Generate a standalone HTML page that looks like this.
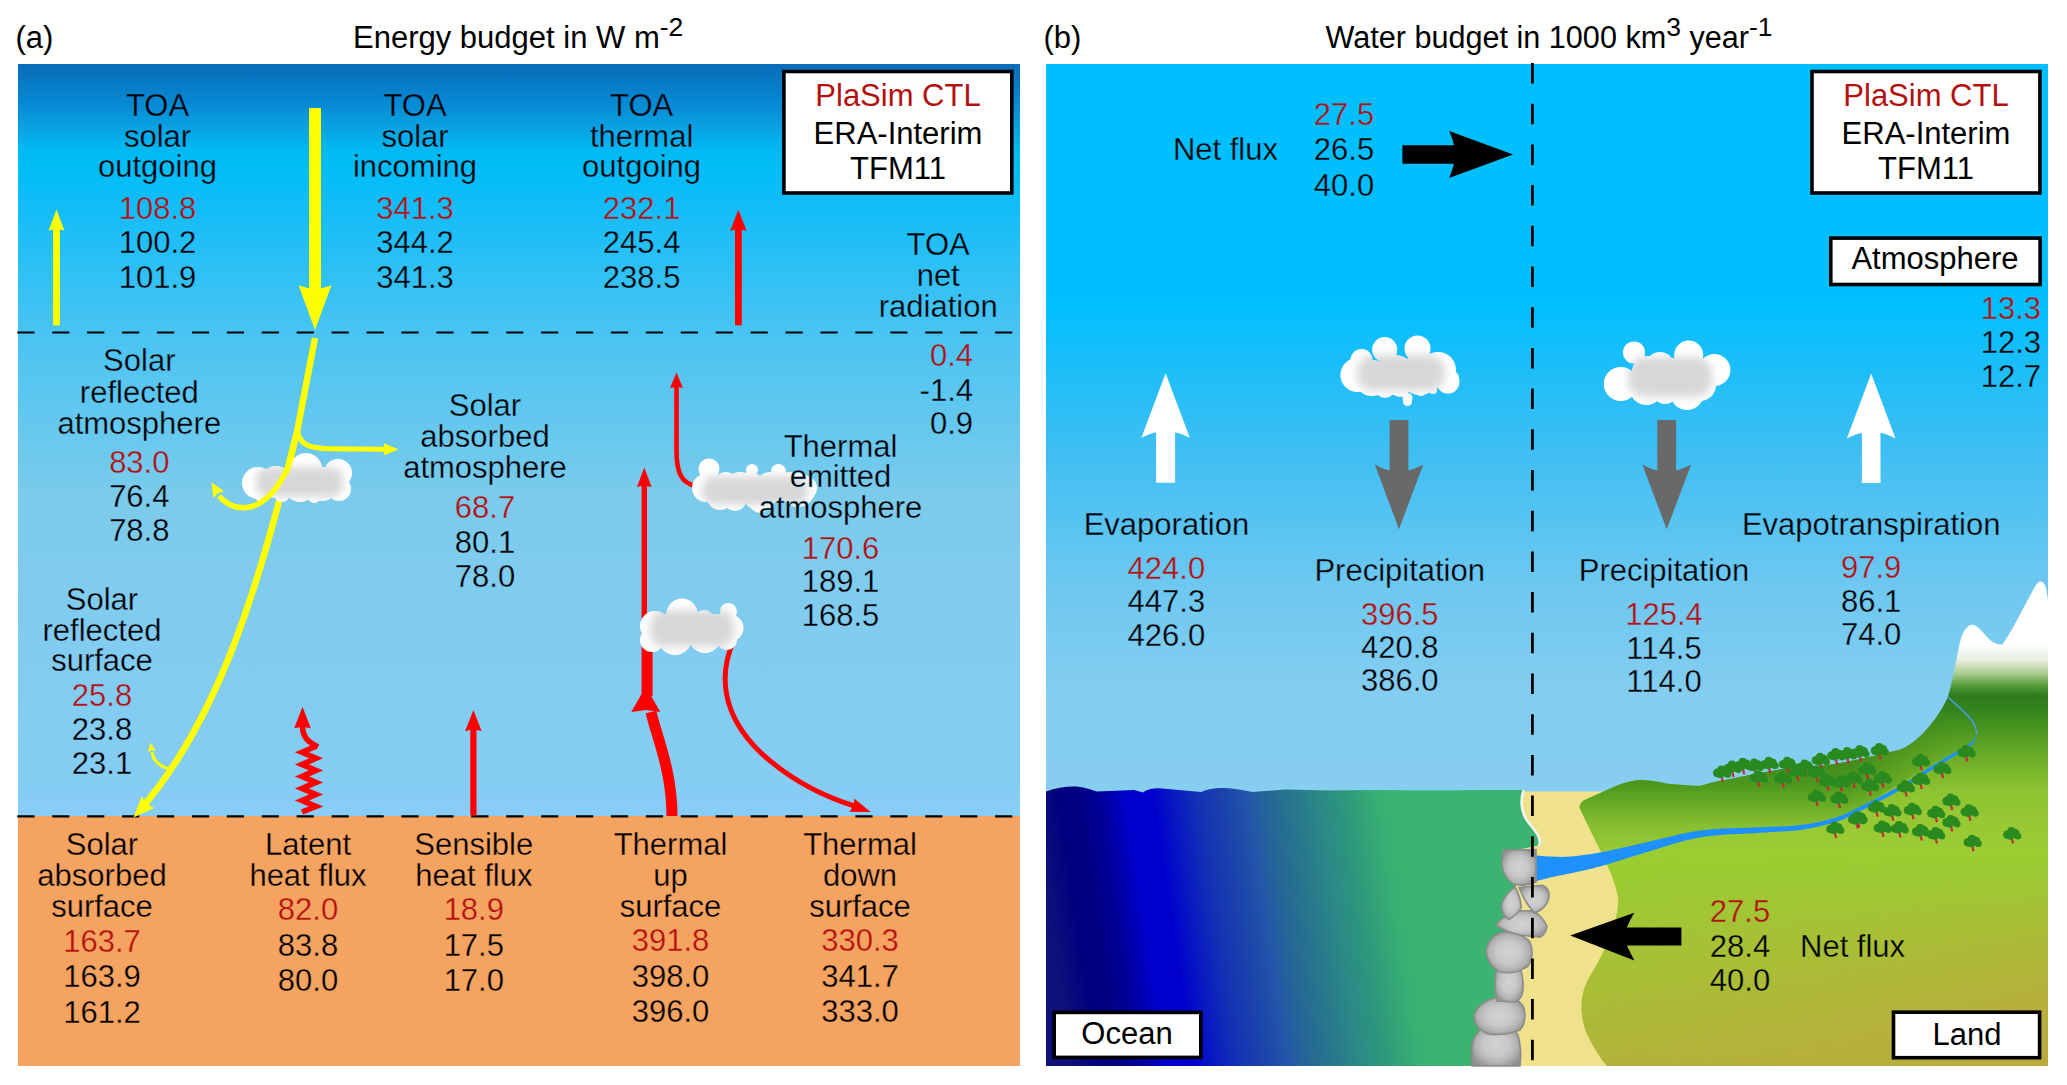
<!DOCTYPE html>
<html><head><meta charset="utf-8">
<style>
html,body{margin:0;padding:0;background:#fff;width:2067px;height:1085px;overflow:hidden;}
svg{display:block;}
text{font-family:"Liberation Sans",sans-serif;font-size:31px;fill:#000;stroke-width:0.3px;}
.r{fill:#b41010;}
.m{text-anchor:middle;}
.e{text-anchor:end;}
</style></head>
<body>
<svg width="2067" height="1085" viewBox="0 0 2067 1085">
<defs>
<linearGradient id="skyL" gradientUnits="userSpaceOnUse" x1="0" y1="64" x2="0" y2="816">
<stop offset="0" stop-color="#0a6cb9"/>
<stop offset="0.053" stop-color="#068ad4"/>
<stop offset="0.082" stop-color="#0aa0e1"/>
<stop offset="0.114" stop-color="#00b9f2"/>
<stop offset="0.141" stop-color="#00bdf8"/>
<stop offset="0.194" stop-color="#14bdf8"/>
<stop offset="0.356" stop-color="#48c4f2"/>
<stop offset="0.58" stop-color="#7ccbeb"/>
<stop offset="1" stop-color="#87cdf5"/>
</linearGradient>
<linearGradient id="skyR" gradientUnits="userSpaceOnUse" x1="0" y1="64" x2="0" y2="800">
<stop offset="0" stop-color="#00bfff"/>
<stop offset="0.32" stop-color="#00bfff"/>
<stop offset="0.52" stop-color="#3cbef2"/>
<stop offset="0.71" stop-color="#6ec8f0"/>
<stop offset="0.86" stop-color="#84cdf0"/>
<stop offset="1" stop-color="#87cef0"/>
</linearGradient>
<linearGradient id="ocean" gradientUnits="userSpaceOnUse" x1="1046" y1="900" x2="1530" y2="827.4">
<stop offset="0.000" stop-color="#10107a"/>
<stop offset="0.060" stop-color="#000080"/>
<stop offset="0.091" stop-color="#000080"/>
<stop offset="0.143" stop-color="#00009c"/>
<stop offset="0.194" stop-color="#0000cd"/>
<stop offset="0.246" stop-color="#0000cd"/>
<stop offset="0.298" stop-color="#0a1ec0"/>
<stop offset="0.339" stop-color="#1432b4"/>
<stop offset="0.413" stop-color="#1e4ba8"/>
<stop offset="0.436" stop-color="#2355aa"/>
<stop offset="0.483" stop-color="#256895"/>
<stop offset="0.533" stop-color="#28788c"/>
<stop offset="0.587" stop-color="#2b8a86"/>
<stop offset="0.628" stop-color="#2d967d"/>
<stop offset="0.669" stop-color="#33a477"/>
<stop offset="0.702" stop-color="#37af73"/>
<stop offset="0.731" stop-color="#3cb371"/>
<stop offset="1.000" stop-color="#3cb371"/>
</linearGradient>
<linearGradient id="landV" gradientUnits="userSpaceOnUse" x1="0" y1="580" x2="0" y2="1066">
<stop offset="0.000" stop-color="#ffffff"/>
<stop offset="0.134" stop-color="#ffffff"/>
<stop offset="0.165" stop-color="#e6eedf"/>
<stop offset="0.193" stop-color="#a8cc8c"/>
<stop offset="0.216" stop-color="#5a9e3c"/>
<stop offset="0.237" stop-color="#2e7c1c"/>
<stop offset="0.267" stop-color="#34841e"/>
<stop offset="0.309" stop-color="#4b9620"/>
<stop offset="0.370" stop-color="#6eaf28"/>
<stop offset="0.432" stop-color="#8cc330"/>
<stop offset="0.494" stop-color="#96c834"/>
<stop offset="0.556" stop-color="#9acd32"/>
<stop offset="1.000" stop-color="#9acd32"/>
</linearGradient>
<linearGradient id="hillG" gradientUnits="userSpaceOnUse" x1="0" y1="745" x2="0" y2="850">
<stop offset="0.000" stop-color="#3a8418"/>
<stop offset="0.381" stop-color="#4c981e"/>
<stop offset="0.571" stop-color="#68ad26"/>
<stop offset="0.762" stop-color="#86bf30"/>
<stop offset="1.000" stop-color="#98c835"/>
</linearGradient>
<linearGradient id="landO" gradientUnits="userSpaceOnUse" x1="0" y1="870" x2="0" y2="1066">
<stop offset="0" stop-color="#beae3e" stop-opacity="0"/>
<stop offset="1" stop-color="#bca83c" stop-opacity="0.72"/>
</linearGradient>
<linearGradient id="landO2" gradientUnits="userSpaceOnUse" x1="1600" y1="0" x2="2048" y2="0">
<stop offset="0" stop-color="#beae3e" stop-opacity="0"/>
<stop offset="1" stop-color="#bca83c" stop-opacity="0.8"/>
</linearGradient>
<linearGradient id="maskG" gradientUnits="userSpaceOnUse" x1="0" y1="860" x2="0" y2="1040">
<stop offset="0" stop-color="#000"/>
<stop offset="1" stop-color="#fff"/>
</linearGradient>
<mask id="lowmask" maskUnits="userSpaceOnUse" x="1500" y="500" width="600" height="600"><rect x="1500" y="500" width="600" height="600" fill="url(#maskG)"/></mask>
<linearGradient id="hmaskG" gradientUnits="userSpaceOnUse" x1="1850" y1="0" x2="1950" y2="0">
<stop offset="0" stop-color="#fff"/>
<stop offset="1" stop-color="#000"/>
</linearGradient>
<mask id="hillmask" maskUnits="userSpaceOnUse" x="1500" y="600" width="600" height="400"><rect x="1500" y="600" width="600" height="400" fill="url(#hmaskG)"/></mask>
<clipPath id="lowclip"><rect x="1500" y="870" width="600" height="220"/></clipPath>
<radialGradient id="rockG" cx="0.5" cy="0.5" r="0.6">
<stop offset="0" stop-color="#d2d2d2"/>
<stop offset="0.45" stop-color="#c8c8c8"/>
<stop offset="0.7" stop-color="#b4b4b4"/>
<stop offset="0.85" stop-color="#9e9e9e"/>
<stop offset="1" stop-color="#8e8e8e"/>
</radialGradient>
<filter id="cblur" x="-30%" y="-50%" width="160%" height="200%"><feGaussianBlur stdDeviation="4"/></filter>
<filter id="cloudf" x="-20%" y="-30%" width="140%" height="160%">
<feMorphology in="SourceAlpha" operator="erode" radius="5" result="er"/>
<feGaussianBlur in="er" stdDeviation="3.2" result="bl"/>
<feFlood flood-color="#d8d8d8" result="fl"/>
<feComposite in="fl" in2="bl" operator="in" result="gray"/>
<feMerge><feMergeNode in="SourceGraphic"/><feMergeNode in="gray"/></feMerge>
</filter>
</defs>

<rect x="18" y="64" width="1002" height="752" fill="url(#skyL)"/>
<rect x="18" y="816" width="1002" height="250" fill="#f4a460"/>
<rect x="783.9" y="71.5" width="227.9" height="121.5" fill="#fff" stroke="#000" stroke-width="3.6"/>
<line x1="17.3" y1="332.5" x2="1013" y2="332.5" stroke="#000" stroke-width="2.2" stroke-dasharray="17.2 17.72"/>
<line x1="17.3" y1="816.3" x2="1013" y2="816.3" stroke="#000" stroke-width="2.2" stroke-dasharray="17.2 17.72"/>
<polygon fill="#ffff00"  points="309,108 321,108 321,288.5 331.5,285.3 315,330 298.5,285.3 309,288.5"/>
<polygon fill="#ffff00"  points="53.1,325.6 53.1,229.3 48.5,230.7 56.5,209.4 64.5,230.7 59.9,229.3 59.9,325.6"/>
<polygon fill="#ff0000"  points="735,325.2 735,229.4 730.1,231 738.4,209.7 746.6,231 741.8,229.4 741.8,325.2"/>
<path d="M315,338 L297,432 C262,570 225,712 140,810" fill="none" stroke="#ffff00" stroke-width="6.5"/>
<polygon fill="#ffff00"  points="141.7,796.4 133.5,817.5 154.1,808.1 146.6,803.7"/>
<path d="M297.5,430 C299,444 308,448.5 330,448.8 L386,449.2" fill="none" stroke="#ffff00" stroke-width="5"/>
<polygon fill="#ffff00"  points="383.5,455.6 398.5,449.4 383.5,443.1 385,449.4"/>
<clipPath id="cc1"><circle cx="258" cy="483" r="16"/><circle cx="276" cy="482" r="16"/><circle cx="306" cy="469" r="16"/><circle cx="300" cy="486" r="16"/><circle cx="322" cy="484" r="17"/><circle cx="338" cy="473" r="14"/><circle cx="339" cy="489" r="12"/><circle cx="282" cy="494" r="8"/><circle cx="262" cy="494" r="8"/><circle cx="314" cy="497" r="6"/></clipPath><g fill="#fff"><circle cx="258" cy="483" r="16"/><circle cx="276" cy="482" r="16"/><circle cx="306" cy="469" r="16"/><circle cx="300" cy="486" r="16"/><circle cx="322" cy="484" r="17"/><circle cx="338" cy="473" r="14"/><circle cx="339" cy="489" r="12"/><circle cx="282" cy="494" r="8"/><circle cx="262" cy="494" r="8"/><circle cx="314" cy="497" r="6"/></g><g clip-path="url(#cc1)"><rect x="256" y="467" width="87" height="30" rx="12" fill="#d8d8d8" filter="url(#cblur)"/></g>
<path d="M295,440 C292,462 283,482 268,497 C255,509 235,514 219,496" fill="none" stroke="#ffff00" stroke-width="5.5"/>
<polygon fill="#ffff00"  points="224.1,491.3 211.5,482.5 213.3,497.7 217.9,493.2"/>
<path d="M172,769 C160,768 153,760 152,752" fill="none" stroke="#ffff00" stroke-width="3"/>
<polygon fill="#ffff00"  points="155.8,750.8 150.5,742.5 147.9,752 151.7,750.4"/>
<polygon fill="#ff0000"  points="470.3,815.5 470.3,729.8 465.1,731.3 473.4,710 481.7,731.3 476.5,729.8 476.5,815.5"/>
<polyline points="302,812 316,806.5 302,800.5 316,794.5 302,788.5 316,782.4 302,776.4 316,770.4 302,764.4 316,758.3 302,752.3 316,746.2" fill="none" stroke="#ff0000" stroke-width="5.6" stroke-miterlimit="10"/>
<path d="M318,747 C308,742 302.5,737 302.5,726" fill="none" stroke="#ff0000" stroke-width="5.6"/>
<polygon fill="#ff0000"  points="310.8,728.3 302.5,706.8 294.2,728.3 302.5,726.8"/>
<path d="M672,816 C672,770 656,735 651,712" fill="none" stroke="#ff0000" stroke-width="11"/>
<polygon fill="#ff0000"  points="660.3,712 645.8,686.5 631.3,712 645.8,710"/>
<rect x="641.6" y="640" width="11" height="56" fill="#ff0000"/>
<rect x="641.6" y="484" width="5.4" height="160" fill="#ff0000"/>
<polygon fill="#ff0000"  points="651.6,487.1 644.3,467.6 636.9,487.1 644.3,485.6"/>
<path d="M734,640 C718,675 722,715 760,752 C790,780 825,797 856,806.5" fill="none" stroke="#ff0000" stroke-width="5"/>
<polygon fill="#ff0000"  points="849.4,811.8 870.6,812 854.2,798.6 853.7,805.9"/>
<clipPath id="cc2"><circle cx="655" cy="626" r="15"/><circle cx="652" cy="640" r="12"/><circle cx="682" cy="614" r="15.5"/><circle cx="675" cy="638" r="17"/><circle cx="704" cy="620" r="10"/><circle cx="705" cy="637" r="16"/><circle cx="728.5" cy="611.5" r="8.5"/><circle cx="730" cy="628" r="13.5"/><circle cx="727" cy="640" r="10"/><circle cx="694" cy="626" r="12"/><circle cx="716" cy="624" r="10"/><circle cx="668" cy="626" r="12"/></clipPath><g fill="#fff"><circle cx="655" cy="626" r="15"/><circle cx="652" cy="640" r="12"/><circle cx="682" cy="614" r="15.5"/><circle cx="675" cy="638" r="17"/><circle cx="704" cy="620" r="10"/><circle cx="705" cy="637" r="16"/><circle cx="728.5" cy="611.5" r="8.5"/><circle cx="730" cy="628" r="13.5"/><circle cx="727" cy="640" r="10"/><circle cx="694" cy="626" r="12"/><circle cx="716" cy="624" r="10"/><circle cx="668" cy="626" r="12"/></g><g clip-path="url(#cc2)"><rect x="650" y="610" width="84" height="37" rx="14" fill="#d8d8d8" filter="url(#cblur)"/></g>
<path d="M697,486 C680,484 676.5,470 676.5,450 L676.5,386" fill="none" stroke="#ff0000" stroke-width="4.6"/>
<polygon fill="#ff0000"  points="682.9,388 676.5,372.5 670.1,388 676.5,386.8"/>
<clipPath id="cc3"><circle cx="706" cy="488" r="14"/><circle cx="709" cy="469" r="10.5"/><circle cx="720" cy="497" r="13"/><circle cx="726" cy="484" r="12"/><circle cx="750" cy="486" r="14"/><circle cx="770" cy="486" r="14"/><circle cx="790" cy="486" r="14"/><circle cx="805" cy="488" r="12"/><circle cx="740" cy="488" r="16"/><circle cx="752" cy="470" r="6"/><circle cx="760" cy="494" r="17"/><circle cx="780" cy="488" r="15"/><circle cx="778.5" cy="471.5" r="7.5"/><circle cx="798" cy="490" r="17"/><circle cx="735" cy="500" r="11"/><circle cx="760" cy="503" r="10"/></clipPath><g fill="#fff"><circle cx="706" cy="488" r="14"/><circle cx="709" cy="469" r="10.5"/><circle cx="720" cy="497" r="13"/><circle cx="726" cy="484" r="12"/><circle cx="750" cy="486" r="14"/><circle cx="770" cy="486" r="14"/><circle cx="790" cy="486" r="14"/><circle cx="805" cy="488" r="12"/><circle cx="740" cy="488" r="16"/><circle cx="752" cy="470" r="6"/><circle cx="760" cy="494" r="17"/><circle cx="780" cy="488" r="15"/><circle cx="778.5" cy="471.5" r="7.5"/><circle cx="798" cy="490" r="17"/><circle cx="735" cy="500" r="11"/><circle cx="760" cy="503" r="10"/></g><g clip-path="url(#cc3)"><rect x="702" y="476" width="106" height="29" rx="12" fill="#d8d8d8" filter="url(#cblur)"/></g>
<rect x="1046" y="64" width="1002" height="1002" fill="url(#skyR)"/>
<rect x="1515" y="791.5" width="130" height="274.5" fill="#f0e28c"/>
<path d="M1579.6,808 C1579.6,803 1583,800 1588,798.5 C1608,790 1625,780 1641,780 C1655,780 1665,784 1673,784.2 C1685,785 1692,786 1700,785.7 C1706,785 1711,782 1717.5,781.3 C1740,777 1760,772 1790,768 C1810,766 1820,765.5 1826,765.2 C1850,762 1880,754 1900,749.7 C1920,742 1940,715 1947.5,697.7 C1952,685 1956,660 1960,642 C1963,630 1968,624.7 1972,624.7 C1978,624.7 1983,633 1990,640 C1995,644 1999,645 2002.3,644.5 C2012,632 2028,598 2036,585 C2040,579 2044,581 2046,588 L2048,600 L2048,1066 L1607,1066 C1600,1058 1594,1048 1588,1036 C1580,1020 1578,995 1590,976 C1600,960 1616,930 1618,905 C1620,895 1612,875 1603,856 Z" fill="url(#landV)"/>
<path d="M1579.6,808 C1579.6,803 1583,800 1588,798.5 C1608,790 1625,780 1641,780 C1655,780 1665,784 1673,784.2 C1685,785 1692,786 1700,785.7 C1706,785 1711,782 1717.5,781.3 C1740,777 1760,772 1790,768 C1810,766 1820,765.5 1826,765.2 C1850,762 1880,754 1900,749.7 C1920,742 1940,715 1947.5,697.7 C1955,705 1970,715 1976,734 C1975,740 1965,744 1950,752 C1920,770 1890,790 1860,808 C1835,822 1800,829 1760,831 C1720,834 1680,838 1640,845 C1615,849 1605,852 1603,856 Z" fill="url(#hillG)" mask="url(#hillmask)"/>
<path d="M1579.6,808 C1579.6,803 1583,800 1588,798.5 C1608,790 1625,780 1641,780 C1655,780 1665,784 1673,784.2 C1685,785 1692,786 1700,785.7 C1706,785 1711,782 1717.5,781.3 C1740,777 1760,772 1790,768 C1810,766 1820,765.5 1826,765.2 C1850,762 1880,754 1900,749.7 C1920,742 1940,715 1947.5,697.7 C1952,685 1956,660 1960,642 C1963,630 1968,624.7 1972,624.7 C1978,624.7 1983,633 1990,640 C1995,644 1999,645 2002.3,644.5 C2012,632 2028,598 2036,585 C2040,579 2044,581 2046,588 L2048,600 L2048,1066 L1607,1066 C1600,1058 1594,1048 1588,1036 C1580,1020 1578,995 1590,976 C1600,960 1616,930 1618,905 C1620,895 1612,875 1603,856 Z" fill="url(#landO)" clip-path="url(#lowclip)"/>
<path d="M1579.6,808 C1579.6,803 1583,800 1588,798.5 C1608,790 1625,780 1641,780 C1655,780 1665,784 1673,784.2 C1685,785 1692,786 1700,785.7 C1706,785 1711,782 1717.5,781.3 C1740,777 1760,772 1790,768 C1810,766 1820,765.5 1826,765.2 C1850,762 1880,754 1900,749.7 C1920,742 1940,715 1947.5,697.7 C1952,685 1956,660 1960,642 C1963,630 1968,624.7 1972,624.7 C1978,624.7 1983,633 1990,640 C1995,644 1999,645 2002.3,644.5 C2012,632 2028,598 2036,585 C2040,579 2044,581 2046,588 L2048,600 L2048,1066 L1607,1066 C1600,1058 1594,1048 1588,1036 C1580,1020 1578,995 1590,976 C1600,960 1616,930 1618,905 C1620,895 1612,875 1603,856 Z" fill="url(#landO2)" mask="url(#lowmask)"/>
<path d="M1530,855 L1531.5,855.1 L1533.6,855.3 L1536,855.5 L1538.8,855.8 L1541.6,856 L1544.5,856.2 L1547.4,856.4 L1550,856.5 L1552.4,856.6 L1554.8,856.7 L1557.1,856.8 L1559.4,856.8 L1561.8,856.9 L1564.3,856.8 L1567,856.7 L1570,856.5 L1573.2,856.2 L1576.6,855.9 L1580.1,855.5 L1583.8,855 L1587.6,854.5 L1591.6,853.9 L1595.7,853.3 L1600,852.5 L1604.4,851.7 L1608.8,850.8 L1613.4,849.8 L1618.1,848.7 L1623.1,847.6 L1628.4,846.4 L1634,845.1 L1640,843.8 L1646.5,842.3 L1653.6,840.6 L1661,838.7 L1668.8,836.9 L1676.6,835 L1684.5,833.3 L1692.4,831.8 L1700,830.6 L1707.6,829.7 L1715.5,829 L1723.4,828.6 L1731.2,828.2 L1739,827.9 L1746.4,827.7 L1753.5,827.5 L1760,827.2 L1766,826.9 L1771.5,826.7 L1776.7,826.6 L1781.6,826.4 L1786.2,826.2 L1790.8,826 L1795.4,825.6 L1800,825.1 L1804.7,824.5 L1809.3,823.7 L1813.9,822.9 L1818.4,822 L1822.8,821 L1827.1,819.9 L1831.1,818.8 L1835,817.7 L1838.5,816.6 L1841.6,815.4 L1844.4,814.3 L1847.2,813 L1850,811.7 L1852.9,810.2 L1856.2,808.6 L1860,806.7 L1864.4,804.5 L1869.2,802.1 L1874.3,799.5 L1879.7,796.7 L1885.1,793.9 L1890.4,791.1 L1895.4,788.4 L1900,785.8 L1904.3,783.3 L1908.3,780.9 L1912.2,778.4 L1915.9,776 L1919.6,773.7 L1923.1,771.4 L1926.6,769.1 L1930,767 L1933.4,764.9 L1936.8,762.9 L1940.1,761 L1943.3,759.1 L1946.4,757.3 L1949.4,755.5 L1952.3,753.8 L1955,752.2 L1957.6,750.7 L1960.1,749.2 L1962.5,747.8 L1964.8,746.5 L1966.9,745.2 L1968.8,743.9 L1970.5,742.7 L1972,741.5 L1973.2,740.3 L1974.1,739 L1974.8,737.7 L1975.3,736.5 L1975.7,735.3 L1976,734.3 L1976.2,733.5 L1976.5,732.8 L1976.5,735.2 L1976.2,735.9 L1976,736.8 L1975.7,737.9 L1975.3,739.1 L1974.8,740.5 L1974.1,741.8 L1973.2,743.2 L1972,744.5 L1970.5,745.8 L1968.8,747.1 L1966.9,748.4 L1964.8,749.8 L1962.5,751.2 L1960.1,752.7 L1957.6,754.2 L1955,755.8 L1952.3,757.5 L1949.4,759.2 L1946.4,761 L1943.3,762.9 L1940.1,764.8 L1936.8,766.8 L1933.4,768.9 L1930,771 L1926.6,773.2 L1923.1,775.5 L1919.6,777.8 L1915.9,780.2 L1912.2,782.7 L1908.3,785.2 L1904.3,787.7 L1900,790.2 L1895.4,792.8 L1890.4,795.6 L1885.1,798.4 L1879.7,801.3 L1874.3,804 L1869.2,806.7 L1864.4,809.1 L1860,811.3 L1856.2,813.2 L1852.9,814.8 L1850,816.3 L1847.2,817.6 L1844.4,818.9 L1841.6,820 L1838.5,821.2 L1835,822.3 L1831.1,823.4 L1827.1,824.5 L1822.8,825.6 L1818.4,826.6 L1813.9,827.5 L1809.3,828.4 L1804.7,829.2 L1800,829.9 L1795.4,830.5 L1790.8,830.9 L1786.2,831.3 L1781.6,831.5 L1776.7,831.8 L1771.5,832.1 L1766,832.4 L1760,832.8 L1753.5,833.2 L1746.4,833.5 L1739,833.9 L1731.2,834.2 L1723.4,834.7 L1715.5,835.4 L1707.6,836.2 L1700,837.4 L1692.4,838.9 L1684.5,840.8 L1676.6,843 L1668.8,845.3 L1661,847.7 L1653.6,850 L1646.5,852.2 L1640,854.2 L1634,856 L1628.4,857.7 L1623.1,859.4 L1618.1,861 L1613.4,862.5 L1608.8,863.9 L1604.4,865.2 L1600,866.5 L1595.7,867.6 L1591.6,868.7 L1587.6,869.6 L1583.8,870.5 L1580.1,871.3 L1576.6,872.1 L1573.2,872.8 L1570,873.5 L1567,874.1 L1564.3,874.7 L1561.8,875.2 L1559.4,875.6 L1557.1,876 L1554.8,876.5 L1552.4,876.9 L1550,877.5 L1547.4,878.2 L1544.5,878.9 L1541.6,879.7 L1538.8,880.5 L1536,881.3 L1533.6,882 L1531.5,882.6 L1530,883 Z" fill="#1e90ff"/>
<path d="M1976.8,734 C1976,722 1968,716 1962,710 C1956,704 1951,700 1948,697" fill="none" stroke="#4a9be0" stroke-width="1.6"/>
<path d="M1046,791.4 C1055,788 1065,786.4 1073,786.4 C1083,786.4 1090,789 1097,791.6 L1134,790 L1143,792.4 C1148,789 1152,788.2 1159.5,788.2 L1201,792 C1207,789 1214,787.9 1221,787.9 C1232,787.9 1242,790 1252.6,792 L1285,789.5 L1330,790.5 L1380,790 L1430,790.5 L1480,790 L1523.5,790 C1520,800 1521,812 1528,822 C1536,832 1542,838 1541,845 L1516,850 L1516,1066 L1046,1066 Z" fill="url(#ocean)"/>
<path d="M1523.8,790 C1520,800 1521,812 1528,822 C1536,832 1542,838 1539,846" fill="none" stroke="#f4f4f4" stroke-width="2.6"/>
<path d="M1472,1045 Q1476,1028 1492,1024 Q1510,1022 1518,1035 Q1522,1050 1520,1066 L1472,1066 Z" fill="url(#rockG)" stroke="#8c8c8c" stroke-width="1.6"/>
<path d="M1474,1015 Q1480,1000 1500,997 Q1518,996 1524,1008 Q1527,1022 1520,1030 Q1505,1036 1488,1034 Q1474,1028 1474,1015 Z" fill="url(#rockG)" stroke="#8c8c8c" stroke-width="1.6"/>
<path d="M1497,966 Q1505,961 1518,962 Q1524,975 1523,990 Q1522,1000 1515,1002 L1497,1001 Q1493,985 1497,966 Z" fill="url(#rockG)" stroke="#8c8c8c" stroke-width="1.6"/>
<path d="M1486,950 Q1490,935 1503,932 Q1520,931 1530,942 Q1535,955 1528,966 Q1516,975 1500,972 Q1487,965 1486,950 Z" fill="url(#rockG)" stroke="#8c8c8c" stroke-width="1.6"/>
<path d="M1496,925 Q1505,914 1518,910.8 L1531.4,910.8 Q1542,915 1546.9,926.3 Q1546,934 1540,937.3 L1520,935 Q1505,932 1496,925 Z" fill="url(#rockG)" stroke="#8c8c8c" stroke-width="1.6"/>
<path d="M1514.8,886.5 Q1503,897 1501.5,906 Q1502,916 1509,919.6 Q1518,914 1521.4,907.5 Q1520,895 1514.8,886.5 Z" fill="url(#rockG)" stroke="#8c8c8c" stroke-width="1.6"/>
<path d="M1519,887.5 L1542.4,885.4 Q1550,888 1549,897 Q1547,908 1535,913 Q1526,905 1519,887.5 Z" fill="url(#rockG)" stroke="#8c8c8c" stroke-width="1.6"/>
<path d="M1502.6,853 Q1503,850 1507,850 L1536,849.5 L1536,882 Q1525,887 1513,884 Q1503,876 1502,865 Z" fill="url(#rockG)" stroke="#8c8c8c" stroke-width="1.6"/>
<g><path d="M1721.3,774.9 l1.6,7" stroke="#c8283c" stroke-width="2.2" fill="none"/><g fill="#2a8a1f"><circle cx="1717.3" cy="772.9" r="4.3"/><circle cx="1724.8" cy="771.9" r="4.8"/><circle cx="1721.3" cy="769.4" r="4"/><circle cx="1720.3" cy="774.4" r="3.6"/><circle cx="1727.8" cy="774.4" r="3.4"/></g></g>
<g><path d="M1731.9,770.1 l1.6,7" stroke="#c8283c" stroke-width="2.2" fill="none"/><g fill="#2a8a1f"><circle cx="1727.9" cy="768.1" r="4.3"/><circle cx="1735.4" cy="767.1" r="4.8"/><circle cx="1731.9" cy="764.6" r="4"/><circle cx="1730.9" cy="769.6" r="3.6"/><circle cx="1738.4" cy="769.6" r="3.4"/></g></g>
<g><path d="M1742.6,767.2 l1.6,7" stroke="#c8283c" stroke-width="2.2" fill="none"/><g fill="#2a8a1f"><circle cx="1738.6" cy="765.2" r="4.3"/><circle cx="1746.1" cy="764.2" r="4.8"/><circle cx="1742.6" cy="761.7" r="4"/><circle cx="1741.6" cy="766.7" r="3.6"/><circle cx="1749.1" cy="766.7" r="3.4"/></g></g>
<g><path d="M1754.2,768.1 l1.6,7" stroke="#c8283c" stroke-width="2.2" fill="none"/><g fill="#2a8a1f"><circle cx="1750.2" cy="766.1" r="4.3"/><circle cx="1757.7" cy="765.1" r="4.8"/><circle cx="1754.2" cy="762.6" r="4"/><circle cx="1753.2" cy="767.6" r="3.6"/><circle cx="1760.7" cy="767.6" r="3.4"/></g></g>
<g><path d="M1768.7,766.2 l1.6,7" stroke="#c8283c" stroke-width="2.2" fill="none"/><g fill="#2a8a1f"><circle cx="1764.7" cy="764.2" r="4.3"/><circle cx="1772.2" cy="763.2" r="4.8"/><circle cx="1768.7" cy="760.7" r="4"/><circle cx="1767.7" cy="765.7" r="3.6"/><circle cx="1775.2" cy="765.7" r="3.4"/></g></g>
<g><path d="M1787.1,766.2 l1.6,7" stroke="#c8283c" stroke-width="2.2" fill="none"/><g fill="#2a8a1f"><circle cx="1783.1" cy="764.2" r="4.3"/><circle cx="1790.6" cy="763.2" r="4.8"/><circle cx="1787.1" cy="760.7" r="4"/><circle cx="1786.1" cy="765.7" r="3.6"/><circle cx="1793.6" cy="765.7" r="3.4"/></g></g>
<g><path d="M1804.5,769.1 l1.6,7" stroke="#c8283c" stroke-width="2.2" fill="none"/><g fill="#2a8a1f"><circle cx="1800.5" cy="767.1" r="4.3"/><circle cx="1808" cy="766.1" r="4.8"/><circle cx="1804.5" cy="763.6" r="4"/><circle cx="1803.5" cy="768.6" r="3.6"/><circle cx="1811" cy="768.6" r="3.4"/></g></g>
<g><path d="M1820,762.3 l1.6,7" stroke="#c8283c" stroke-width="2.2" fill="none"/><g fill="#2a8a1f"><circle cx="1816" cy="760.3" r="4.3"/><circle cx="1823.5" cy="759.3" r="4.8"/><circle cx="1820" cy="756.8" r="4"/><circle cx="1819" cy="761.8" r="3.6"/><circle cx="1826.5" cy="761.8" r="3.4"/></g></g>
<g><path d="M1835.5,757.5 l1.6,7" stroke="#c8283c" stroke-width="2.2" fill="none"/><g fill="#2a8a1f"><circle cx="1831.5" cy="755.5" r="4.3"/><circle cx="1839" cy="754.5" r="4.8"/><circle cx="1835.5" cy="752" r="4"/><circle cx="1834.5" cy="757" r="3.6"/><circle cx="1842" cy="757" r="3.4"/></g></g>
<g><path d="M1847,756.5 l1.6,7" stroke="#c8283c" stroke-width="2.2" fill="none"/><g fill="#2a8a1f"><circle cx="1843" cy="754.5" r="4.3"/><circle cx="1850.5" cy="753.5" r="4.8"/><circle cx="1847" cy="751" r="4"/><circle cx="1846" cy="756" r="3.6"/><circle cx="1853.5" cy="756" r="3.4"/></g></g>
<g><path d="M1859.7,754.6 l1.6,7" stroke="#c8283c" stroke-width="2.2" fill="none"/><g fill="#2a8a1f"><circle cx="1855.7" cy="752.6" r="4.3"/><circle cx="1863.2" cy="751.6" r="4.8"/><circle cx="1859.7" cy="749.1" r="4"/><circle cx="1858.7" cy="754.1" r="3.6"/><circle cx="1866.2" cy="754.1" r="3.4"/></g></g>
<g><path d="M1879,752.6 l1.6,7" stroke="#c8283c" stroke-width="2.2" fill="none"/><g fill="#2a8a1f"><circle cx="1875" cy="750.6" r="4.3"/><circle cx="1882.5" cy="749.6" r="4.8"/><circle cx="1879" cy="747.1" r="4"/><circle cx="1878" cy="752.1" r="3.6"/><circle cx="1885.5" cy="752.1" r="3.4"/></g></g>
<g><path d="M1758,779.7 l1.6,7" stroke="#c8283c" stroke-width="2.2" fill="none"/><g fill="#2a8a1f"><circle cx="1754" cy="777.7" r="4.3"/><circle cx="1761.5" cy="776.7" r="4.8"/><circle cx="1758" cy="774.2" r="4"/><circle cx="1757" cy="779.2" r="3.6"/><circle cx="1764.5" cy="779.2" r="3.4"/></g></g>
<g><path d="M1782.2,780.7 l1.6,7" stroke="#c8283c" stroke-width="2.2" fill="none"/><g fill="#2a8a1f"><circle cx="1778.2" cy="778.7" r="4.3"/><circle cx="1785.7" cy="777.7" r="4.8"/><circle cx="1782.2" cy="775.2" r="4"/><circle cx="1781.2" cy="780.2" r="3.6"/><circle cx="1788.7" cy="780.2" r="3.4"/></g></g>
<g><path d="M1796.8,774 l1.6,7" stroke="#c8283c" stroke-width="2.2" fill="none"/><g fill="#2a8a1f"><circle cx="1792.8" cy="772" r="4.3"/><circle cx="1800.3" cy="771" r="4.8"/><circle cx="1796.8" cy="768.5" r="4"/><circle cx="1795.8" cy="773.5" r="3.6"/><circle cx="1803.3" cy="773.5" r="3.4"/></g></g>
<g><path d="M1816.1,774.9 l1.6,7" stroke="#c8283c" stroke-width="2.2" fill="none"/><g fill="#2a8a1f"><circle cx="1812.1" cy="772.9" r="4.3"/><circle cx="1819.6" cy="771.9" r="4.8"/><circle cx="1816.1" cy="769.4" r="4"/><circle cx="1815.1" cy="774.4" r="3.6"/><circle cx="1822.6" cy="774.4" r="3.4"/></g></g>
<g><path d="M1826.8,783.6 l1.6,7" stroke="#c8283c" stroke-width="2.2" fill="none"/><g fill="#2a8a1f"><circle cx="1822.8" cy="781.6" r="4.3"/><circle cx="1830.3" cy="780.6" r="4.8"/><circle cx="1826.8" cy="778.1" r="4"/><circle cx="1825.8" cy="783.1" r="3.6"/><circle cx="1833.3" cy="783.1" r="3.4"/></g></g>
<g><path d="M1840.3,784.6 l1.6,7" stroke="#c8283c" stroke-width="2.2" fill="none"/><g fill="#2a8a1f"><circle cx="1836.3" cy="782.6" r="4.3"/><circle cx="1843.8" cy="781.6" r="4.8"/><circle cx="1840.3" cy="779.1" r="4"/><circle cx="1839.3" cy="784.1" r="3.6"/><circle cx="1846.8" cy="784.1" r="3.4"/></g></g>
<g><path d="M1852.9,780.7 l1.6,7" stroke="#c8283c" stroke-width="2.2" fill="none"/><g fill="#2a8a1f"><circle cx="1848.9" cy="778.7" r="4.3"/><circle cx="1856.4" cy="777.7" r="4.8"/><circle cx="1852.9" cy="775.2" r="4"/><circle cx="1851.9" cy="780.2" r="3.6"/><circle cx="1859.4" cy="780.2" r="3.4"/></g></g>
<g><path d="M1866.4,772 l1.6,7" stroke="#c8283c" stroke-width="2.2" fill="none"/><g fill="#2a8a1f"><circle cx="1862.4" cy="770" r="4.3"/><circle cx="1869.9" cy="769" r="4.8"/><circle cx="1866.4" cy="766.5" r="4"/><circle cx="1865.4" cy="771.5" r="3.6"/><circle cx="1872.9" cy="771.5" r="3.4"/></g></g>
<g><path d="M1869.3,788.4 l1.6,7" stroke="#c8283c" stroke-width="2.2" fill="none"/><g fill="#2a8a1f"><circle cx="1865.3" cy="786.4" r="4.3"/><circle cx="1872.8" cy="785.4" r="4.8"/><circle cx="1869.3" cy="782.9" r="4"/><circle cx="1868.3" cy="787.9" r="3.6"/><circle cx="1875.8" cy="787.9" r="3.4"/></g></g>
<g><path d="M1881.9,780.7 l1.6,7" stroke="#c8283c" stroke-width="2.2" fill="none"/><g fill="#2a8a1f"><circle cx="1877.9" cy="778.7" r="4.3"/><circle cx="1885.4" cy="777.7" r="4.8"/><circle cx="1881.9" cy="775.2" r="4"/><circle cx="1880.9" cy="780.2" r="3.6"/><circle cx="1888.4" cy="780.2" r="3.4"/></g></g>
<g><path d="M1816.1,799.1 l1.6,7" stroke="#c8283c" stroke-width="2.2" fill="none"/><g fill="#2a8a1f"><circle cx="1812.1" cy="797.1" r="4.3"/><circle cx="1819.6" cy="796.1" r="4.8"/><circle cx="1816.1" cy="793.6" r="4"/><circle cx="1815.1" cy="798.6" r="3.6"/><circle cx="1822.6" cy="798.6" r="3.4"/></g></g>
<g><path d="M1838.4,801 l1.6,7" stroke="#c8283c" stroke-width="2.2" fill="none"/><g fill="#2a8a1f"><circle cx="1834.4" cy="799" r="4.3"/><circle cx="1841.9" cy="798" r="4.8"/><circle cx="1838.4" cy="795.5" r="4"/><circle cx="1837.4" cy="800.5" r="3.6"/><circle cx="1844.9" cy="800.5" r="3.4"/></g></g>
<g><path d="M1876.1,809.7 l1.6,7" stroke="#c8283c" stroke-width="2.2" fill="none"/><g fill="#2a8a1f"><circle cx="1872.1" cy="807.7" r="4.3"/><circle cx="1879.6" cy="806.7" r="4.8"/><circle cx="1876.1" cy="804.2" r="4"/><circle cx="1875.1" cy="809.2" r="3.6"/><circle cx="1882.6" cy="809.2" r="3.4"/></g></g>
<g><path d="M1891.6,813.6 l1.6,7" stroke="#c8283c" stroke-width="2.2" fill="none"/><g fill="#2a8a1f"><circle cx="1887.6" cy="811.6" r="4.3"/><circle cx="1895.1" cy="810.6" r="4.8"/><circle cx="1891.6" cy="808.1" r="4"/><circle cx="1890.6" cy="813.1" r="3.6"/><circle cx="1898.1" cy="813.1" r="3.4"/></g></g>
<g><path d="M1857.7,820.4 l1.6,7" stroke="#c8283c" stroke-width="2.2" fill="none"/><g fill="#2a8a1f"><circle cx="1853.7" cy="818.4" r="4.3"/><circle cx="1861.2" cy="817.4" r="4.8"/><circle cx="1857.7" cy="814.9" r="4"/><circle cx="1856.7" cy="819.9" r="3.6"/><circle cx="1864.2" cy="819.9" r="3.4"/></g></g>
<g><path d="M1834.5,831 l1.6,7" stroke="#c8283c" stroke-width="2.2" fill="none"/><g fill="#2a8a1f"><circle cx="1830.5" cy="829" r="4.3"/><circle cx="1838" cy="828" r="4.8"/><circle cx="1834.5" cy="825.5" r="4"/><circle cx="1833.5" cy="830.5" r="3.6"/><circle cx="1841" cy="830.5" r="3.4"/></g></g>
<g><path d="M1881.9,830 l1.6,7" stroke="#c8283c" stroke-width="2.2" fill="none"/><g fill="#2a8a1f"><circle cx="1877.9" cy="828" r="4.3"/><circle cx="1885.4" cy="827" r="4.8"/><circle cx="1881.9" cy="824.5" r="4"/><circle cx="1880.9" cy="829.5" r="3.6"/><circle cx="1888.4" cy="829.5" r="3.4"/></g></g>
<g><path d="M1920.2,763.6 l1.6,7" stroke="#c8283c" stroke-width="2.2" fill="none"/><g fill="#2a8a1f"><circle cx="1916.2" cy="761.6" r="4.3"/><circle cx="1923.7" cy="760.6" r="4.8"/><circle cx="1920.2" cy="758.1" r="4"/><circle cx="1919.2" cy="763.1" r="3.6"/><circle cx="1926.7" cy="763.1" r="3.4"/></g></g>
<g><path d="M1941.5,771.2 l1.6,7" stroke="#c8283c" stroke-width="2.2" fill="none"/><g fill="#2a8a1f"><circle cx="1937.5" cy="769.2" r="4.3"/><circle cx="1945" cy="768.2" r="4.8"/><circle cx="1941.5" cy="765.7" r="4"/><circle cx="1940.5" cy="770.7" r="3.6"/><circle cx="1948" cy="770.7" r="3.4"/></g></g>
<g><path d="M1965.8,754.5 l1.6,7" stroke="#c8283c" stroke-width="2.2" fill="none"/><g fill="#2a8a1f"><circle cx="1961.8" cy="752.5" r="4.3"/><circle cx="1969.3" cy="751.5" r="4.8"/><circle cx="1965.8" cy="749" r="4"/><circle cx="1964.8" cy="754" r="3.6"/><circle cx="1972.3" cy="754" r="3.4"/></g></g>
<g><path d="M1905,789.5 l1.6,7" stroke="#c8283c" stroke-width="2.2" fill="none"/><g fill="#2a8a1f"><circle cx="1901" cy="787.5" r="4.3"/><circle cx="1908.5" cy="786.5" r="4.8"/><circle cx="1905" cy="784" r="4"/><circle cx="1904" cy="789" r="3.6"/><circle cx="1911.5" cy="789" r="3.4"/></g></g>
<g><path d="M1920.2,781.9 l1.6,7" stroke="#c8283c" stroke-width="2.2" fill="none"/><g fill="#2a8a1f"><circle cx="1916.2" cy="779.9" r="4.3"/><circle cx="1923.7" cy="778.9" r="4.8"/><circle cx="1920.2" cy="776.4" r="4"/><circle cx="1919.2" cy="781.4" r="3.6"/><circle cx="1926.7" cy="781.4" r="3.4"/></g></g>
<g><path d="M1950.6,803.1 l1.6,7" stroke="#c8283c" stroke-width="2.2" fill="none"/><g fill="#2a8a1f"><circle cx="1946.6" cy="801.1" r="4.3"/><circle cx="1954.1" cy="800.1" r="4.8"/><circle cx="1950.6" cy="797.6" r="4"/><circle cx="1949.6" cy="802.6" r="3.6"/><circle cx="1957.1" cy="802.6" r="3.4"/></g></g>
<g><path d="M1968.8,813.8 l1.6,7" stroke="#c8283c" stroke-width="2.2" fill="none"/><g fill="#2a8a1f"><circle cx="1964.8" cy="811.8" r="4.3"/><circle cx="1972.3" cy="810.8" r="4.8"/><circle cx="1968.8" cy="808.3" r="4"/><circle cx="1967.8" cy="813.3" r="3.6"/><circle cx="1975.3" cy="813.3" r="3.4"/></g></g>
<g><path d="M1935.4,815.3 l1.6,7" stroke="#c8283c" stroke-width="2.2" fill="none"/><g fill="#2a8a1f"><circle cx="1931.4" cy="813.3" r="4.3"/><circle cx="1938.9" cy="812.3" r="4.8"/><circle cx="1935.4" cy="809.8" r="4"/><circle cx="1934.4" cy="814.8" r="3.6"/><circle cx="1941.9" cy="814.8" r="3.4"/></g></g>
<g><path d="M1950.6,824.4 l1.6,7" stroke="#c8283c" stroke-width="2.2" fill="none"/><g fill="#2a8a1f"><circle cx="1946.6" cy="822.4" r="4.3"/><circle cx="1954.1" cy="821.4" r="4.8"/><circle cx="1950.6" cy="818.9" r="4"/><circle cx="1949.6" cy="823.9" r="3.6"/><circle cx="1957.1" cy="823.9" r="3.4"/></g></g>
<g><path d="M1971.9,844.2 l1.6,7" stroke="#c8283c" stroke-width="2.2" fill="none"/><g fill="#2a8a1f"><circle cx="1967.9" cy="842.2" r="4.3"/><circle cx="1975.4" cy="841.2" r="4.8"/><circle cx="1971.9" cy="838.7" r="4"/><circle cx="1970.9" cy="843.7" r="3.6"/><circle cx="1978.4" cy="843.7" r="3.4"/></g></g>
<g><path d="M2011.4,836.6 l1.6,7" stroke="#c8283c" stroke-width="2.2" fill="none"/><g fill="#2a8a1f"><circle cx="2007.4" cy="834.6" r="4.3"/><circle cx="2014.9" cy="833.6" r="4.8"/><circle cx="2011.4" cy="831.1" r="4"/><circle cx="2010.4" cy="836.1" r="3.6"/><circle cx="2017.9" cy="836.1" r="3.4"/></g></g>
<g><path d="M1935.4,836.6 l1.6,7" stroke="#c8283c" stroke-width="2.2" fill="none"/><g fill="#2a8a1f"><circle cx="1931.4" cy="834.6" r="4.3"/><circle cx="1938.9" cy="833.6" r="4.8"/><circle cx="1935.4" cy="831.1" r="4"/><circle cx="1934.4" cy="836.1" r="3.6"/><circle cx="1941.9" cy="836.1" r="3.4"/></g></g>
<g><path d="M1920.2,833.6 l1.6,7" stroke="#c8283c" stroke-width="2.2" fill="none"/><g fill="#2a8a1f"><circle cx="1916.2" cy="831.6" r="4.3"/><circle cx="1923.7" cy="830.6" r="4.8"/><circle cx="1920.2" cy="828.1" r="4"/><circle cx="1919.2" cy="833.1" r="3.6"/><circle cx="1926.7" cy="833.1" r="3.4"/></g></g>
<g><path d="M1898.9,830.5 l1.6,7" stroke="#c8283c" stroke-width="2.2" fill="none"/><g fill="#2a8a1f"><circle cx="1894.9" cy="828.5" r="4.3"/><circle cx="1902.4" cy="827.5" r="4.8"/><circle cx="1898.9" cy="825" r="4"/><circle cx="1897.9" cy="830" r="3.6"/><circle cx="1905.4" cy="830" r="3.4"/></g></g>
<g><path d="M1912,812.3 l1.6,7" stroke="#c8283c" stroke-width="2.2" fill="none"/><g fill="#2a8a1f"><circle cx="1908" cy="810.3" r="4.3"/><circle cx="1915.5" cy="809.3" r="4.8"/><circle cx="1912" cy="806.8" r="4"/><circle cx="1911" cy="811.8" r="3.6"/><circle cx="1918.5" cy="811.8" r="3.4"/></g></g>
<g><path d="M1856.3,821.4 l1.6,7" stroke="#c8283c" stroke-width="2.2" fill="none"/><g fill="#2a8a1f"><circle cx="1852.3" cy="819.4" r="4.3"/><circle cx="1859.8" cy="818.4" r="4.8"/><circle cx="1856.3" cy="815.9" r="4"/><circle cx="1855.3" cy="820.9" r="3.6"/><circle cx="1862.8" cy="820.9" r="3.4"/></g></g>
<line x1="1532.4" y1="63" x2="1532.4" y2="1066" stroke="#000" stroke-width="2.8" stroke-dasharray="20.5 20.2"/>
<rect x="1812" y="71.5" width="227.9" height="121.5" fill="#fff" stroke="#000" stroke-width="3.6"/>
<rect x="1830.8" y="238.1" width="209.3" height="46.4" fill="#fff" stroke="#000" stroke-width="3.6"/>
<rect x="1054.2" y="1012.4" width="146.6" height="45" fill="#fff" stroke="#000" stroke-width="3.6"/>
<rect x="1893.5" y="1012.2" width="146.1" height="45.5" fill="#fff" stroke="#000" stroke-width="3.6"/>
<path d="M1402.4,145.2 L1454,145.2 Q1452,137 1449.2,131 L1513.1,154.4 L1449.2,178 Q1452,171 1454,163.7 L1402.4,163.7 Z" fill="#000"/>
<path d="M1681.4,927.4 L1626.8,927.4 Q1630,920 1634.3,912.8 L1570.2,935.5 L1634.3,960.6 Q1630,952 1626.8,945.5 L1681.4,945.5 Z" fill="#000"/>
<path d="M1156.1,482.8 L1156.1,432.5 Q1151.1,433 1141.4,437.8 L1165.6,373.2 L1189.8,437.8 Q1180.1,433 1175.1,432.5 L1175.1,482.8 Z" fill="#fff"/>
<path d="M1861.9,482.9 L1861.9,433 Q1856.9,433.5 1846.9,438.4 L1871.2,373.5 L1895.5,438.4 Q1885.5,433.5 1880.5,433 L1880.5,482.9 Z" fill="#fff"/>
<path d="M1389.6,420 L1389.6,470.3 Q1384.6,469.8 1374.8,464.5 L1399,529.3 L1423.2,464.5 Q1413.4,469.8 1408.4,470.3 L1408.4,420 Z" fill="#696969"/>
<path d="M1657.3,420 L1657.3,470.3 Q1652.3,469.8 1642.3,464.5 L1666.7,529.3 L1691.1,464.5 Q1681.1,469.8 1676.1,470.3 L1676.1,420 Z" fill="#696969"/>
<clipPath id="cc4"><circle cx="1357.4" cy="375" r="17"/><circle cx="1361.5" cy="360" r="11"/><circle cx="1384.7" cy="349.5" r="12.5"/><circle cx="1372" cy="378" r="18"/><circle cx="1395" cy="375" r="20"/><circle cx="1417.5" cy="348.5" r="13"/><circle cx="1420" cy="375" r="20"/><circle cx="1438" cy="370" r="18"/><circle cx="1448" cy="382" r="11.5"/><circle cx="1452" cy="378" r="7"/><circle cx="1385" cy="388" r="10"/><circle cx="1400" cy="387" r="10"/><circle cx="1407.5" cy="398" r="5"/><circle cx="1407.5" cy="401.5" r="4.5"/><circle cx="1421" cy="392" r="4"/><circle cx="1433" cy="390" r="4"/></clipPath><g fill="#fff"><circle cx="1357.4" cy="375" r="17"/><circle cx="1361.5" cy="360" r="11"/><circle cx="1384.7" cy="349.5" r="12.5"/><circle cx="1372" cy="378" r="18"/><circle cx="1395" cy="375" r="20"/><circle cx="1417.5" cy="348.5" r="13"/><circle cx="1420" cy="375" r="20"/><circle cx="1438" cy="370" r="18"/><circle cx="1448" cy="382" r="11.5"/><circle cx="1452" cy="378" r="7"/><circle cx="1385" cy="388" r="10"/><circle cx="1400" cy="387" r="10"/><circle cx="1407.5" cy="398" r="5"/><circle cx="1407.5" cy="401.5" r="4.5"/><circle cx="1421" cy="392" r="4"/><circle cx="1433" cy="390" r="4"/></g><g clip-path="url(#cc4)"><rect x="1357" y="355" width="88" height="36" rx="16" fill="#d8d8d8" filter="url(#cblur)"/></g>
<clipPath id="cc5"><circle cx="1620.7" cy="384" r="17"/><circle cx="1634" cy="352.4" r="11"/><circle cx="1648" cy="372" r="16"/><circle cx="1660" cy="366" r="14"/><circle cx="1672" cy="372" r="14"/><circle cx="1688.7" cy="355" r="14.5"/><circle cx="1690" cy="375" r="12"/><circle cx="1714.4" cy="370" r="16"/><circle cx="1700" cy="385" r="16"/><circle cx="1646.4" cy="388" r="17"/><circle cx="1687" cy="393" r="17"/><circle cx="1665" cy="392" r="12"/></clipPath><g fill="#fff"><circle cx="1620.7" cy="384" r="17"/><circle cx="1634" cy="352.4" r="11"/><circle cx="1648" cy="372" r="16"/><circle cx="1660" cy="366" r="14"/><circle cx="1672" cy="372" r="14"/><circle cx="1688.7" cy="355" r="14.5"/><circle cx="1690" cy="375" r="12"/><circle cx="1714.4" cy="370" r="16"/><circle cx="1700" cy="385" r="16"/><circle cx="1646.4" cy="388" r="17"/><circle cx="1687" cy="393" r="17"/><circle cx="1665" cy="392" r="12"/></g><g clip-path="url(#cc5)"><rect x="1628" y="357" width="84" height="40" rx="16" fill="#d8d8d8" filter="url(#cblur)"/></g>
<text x="15.5" y="47.5">(a)</text>
<text x="353" y="47.5">Energy budget in W m<tspan font-size="26.5" dy="-12">-2</tspan></text>
<text x="1043.5" y="47.5">(b)</text>
<text x="1325.5" y="47.5" style="font-size:30.6px">Water budget in 1000 km<tspan font-size="26.5" dy="-12">3</tspan><tspan dy="12"> year</tspan><tspan font-size="26.5" dy="-12">-1</tspan></text>

<text stroke="url(#skyL)" class="m" x="157.5" y="115.8">TOA</text>
<text stroke="url(#skyL)" class="m" x="157.5" y="147.1">solar</text>
<text stroke="url(#skyL)" class="m" x="157.5" y="177.2">outgoing</text>
<text stroke="url(#skyL)" class="m r" x="157.5" y="218.5">108.8</text>
<text stroke="url(#skyL)" class="m" x="157.5" y="253.3">100.2</text>
<text stroke="url(#skyL)" class="m" x="157.5" y="288.2">101.9</text>
<text stroke="url(#skyL)" class="m" x="415" y="115.8">TOA</text>
<text stroke="url(#skyL)" class="m" x="415" y="147.1">solar</text>
<text stroke="url(#skyL)" class="m" x="415" y="177.2">incoming</text>
<text stroke="url(#skyL)" class="m r" x="415" y="218.5">341.3</text>
<text stroke="url(#skyL)" class="m" x="415" y="253.3">344.2</text>
<text stroke="url(#skyL)" class="m" x="415" y="288.2">341.3</text>
<text stroke="url(#skyL)" class="m" x="641.6" y="115.8">TOA</text>
<text stroke="url(#skyL)" class="m" x="641.6" y="147.1">thermal</text>
<text stroke="url(#skyL)" class="m" x="641.6" y="177.2">outgoing</text>
<text stroke="url(#skyL)" class="m r" x="641.6" y="218.5">232.1</text>
<text stroke="url(#skyL)" class="m" x="641.6" y="253.3">245.4</text>
<text stroke="url(#skyL)" class="m" x="641.6" y="288.2">238.5</text>
<text stroke="url(#skyL)" class="m" x="938.2" y="255">TOA</text>
<text stroke="url(#skyL)" class="m" x="938.2" y="286.1">net</text>
<text stroke="url(#skyL)" class="m" x="938.2" y="317.1">radiation</text>
<text stroke="url(#skyL)" class="e r" x="973" y="366.2">0.4</text>
<text stroke="url(#skyL)" class="e" x="973" y="401.4">-1.4</text>
<text stroke="url(#skyL)" class="e" x="973" y="434">0.9</text>
<text stroke="url(#skyL)" class="m" x="139.3" y="371.4">Solar</text>
<text stroke="url(#skyL)" class="m" x="139.3" y="402.6">reflected</text>
<text stroke="url(#skyL)" class="m" x="139.3" y="433.9">atmosphere</text>
<text stroke="url(#skyL)" class="m r" x="139.3" y="473.2">83.0</text>
<text stroke="url(#skyL)" class="m" x="139.3" y="507.2">76.4</text>
<text stroke="url(#skyL)" class="m" x="139.3" y="541">78.8</text>
<text stroke="url(#skyL)" class="m" x="485" y="416">Solar</text>
<text stroke="url(#skyL)" class="m" x="485" y="447">absorbed</text>
<text stroke="url(#skyL)" class="m" x="485" y="477.9">atmosphere</text>
<text stroke="url(#skyL)" class="m r" x="485" y="517.6">68.7</text>
<text stroke="url(#skyL)" class="m" x="485" y="552.6">80.1</text>
<text stroke="url(#skyL)" class="m" x="485" y="587.3">78.0</text>
<text stroke="url(#skyL)" class="m" x="840.5" y="456.5">Thermal</text>
<text stroke="url(#skyL)" class="m" x="840.5" y="487.3">emitted</text>
<text stroke="url(#skyL)" class="m" x="840.5" y="518.4">atmosphere</text>
<text stroke="url(#skyL)" class="m r" x="840.5" y="558.5">170.6</text>
<text stroke="url(#skyL)" class="m" x="840.5" y="592.2">189.1</text>
<text stroke="url(#skyL)" class="m" x="840.5" y="625.8">168.5</text>
<text stroke="url(#skyL)" class="m" x="102" y="610">Solar</text>
<text stroke="url(#skyL)" class="m" x="102" y="640.5">reflected</text>
<text stroke="url(#skyL)" class="m" x="102" y="670.9">surface</text>
<text stroke="url(#skyL)" class="m r" x="102" y="705.7">25.8</text>
<text stroke="url(#skyL)" class="m" x="102" y="739.6">23.8</text>
<text stroke="url(#skyL)" class="m" x="102" y="773.5">23.1</text>
<text stroke="#f4a460" class="m" x="102" y="855">Solar</text>
<text stroke="#f4a460" class="m" x="102" y="886">absorbed</text>
<text stroke="#f4a460" class="m" x="102" y="916.5">surface</text>
<text stroke="#f4a460" class="m r" x="102" y="951.8">163.7</text>
<text stroke="#f4a460" class="m" x="102" y="987.2">163.9</text>
<text stroke="#f4a460" class="m" x="102" y="1022.8">161.2</text>
<text stroke="#f4a460" class="m" x="308" y="855">Latent</text>
<text stroke="#f4a460" class="m" x="308" y="886">heat flux</text>
<text stroke="#f4a460" class="m r" x="308" y="920">82.0</text>
<text stroke="#f4a460" class="m" x="308" y="955.7">83.8</text>
<text stroke="#f4a460" class="m" x="308" y="991.2">80.0</text>
<text stroke="#f4a460" class="m" x="473.8" y="855">Sensible</text>
<text stroke="#f4a460" class="m" x="473.8" y="886">heat flux</text>
<text stroke="#f4a460" class="m r" x="473.8" y="920">18.9</text>
<text stroke="#f4a460" class="m" x="473.8" y="955.7">17.5</text>
<text stroke="#f4a460" class="m" x="473.8" y="991.2">17.0</text>
<text stroke="#f4a460" class="m" x="670.5" y="855">Thermal</text>
<text stroke="#f4a460" class="m" x="670.5" y="886">up</text>
<text stroke="#f4a460" class="m" x="670.5" y="916.5">surface</text>
<text stroke="#f4a460" class="m r" x="670.5" y="951">391.8</text>
<text stroke="#f4a460" class="m" x="670.5" y="986.6">398.0</text>
<text stroke="#f4a460" class="m" x="670.5" y="1021.8">396.0</text>
<text stroke="#f4a460" class="m" x="860" y="855">Thermal</text>
<text stroke="#f4a460" class="m" x="860" y="886">down</text>
<text stroke="#f4a460" class="m" x="860" y="916.5">surface</text>
<text stroke="#f4a460" class="m r" x="860" y="951">330.3</text>
<text stroke="#f4a460" class="m" x="860" y="986.6">341.7</text>
<text stroke="#f4a460" class="m" x="860" y="1021.8">333.0</text>
<text class="m r" x="898" y="105.8">PlaSim CTL</text>
<text class="m" x="898" y="143.8">ERA-Interim</text>
<text class="m" x="898" y="179.3">TFM11</text>
<text stroke="url(#skyR)" class="m r" x="1344" y="124.8">27.5</text>
<text stroke="url(#skyR)" class="m" x="1344" y="160.2">26.5</text>
<text stroke="url(#skyR)" class="m" x="1344" y="196">40.0</text>
<text stroke="url(#skyR)" class="e" x="1278" y="160.2">Net flux</text>
<text class="m r" x="1926" y="105.8">PlaSim CTL</text>
<text class="m" x="1926" y="143.8">ERA-Interim</text>
<text class="m" x="1926" y="179.3">TFM11</text>
<text class="m" x="1935" y="268.9">Atmosphere</text>
<text stroke="url(#skyR)" class="e r" x="2041" y="319.4">13.3</text>
<text stroke="url(#skyR)" class="e" x="2041" y="353.2">12.3</text>
<text stroke="url(#skyR)" class="e" x="2041" y="386.6">12.7</text>
<text stroke="url(#skyR)" class="m" x="1166.4" y="535">Evaporation</text>
<text stroke="url(#skyR)" class="m r" x="1166.4" y="578.8">424.0</text>
<text stroke="url(#skyR)" class="m" x="1166.4" y="612.3">447.3</text>
<text stroke="url(#skyR)" class="m" x="1166.4" y="645.8">426.0</text>
<text stroke="url(#skyR)" class="m" x="1399.7" y="581">Precipitation</text>
<text stroke="url(#skyR)" class="m r" x="1399.7" y="624.8">396.5</text>
<text stroke="url(#skyR)" class="m" x="1399.7" y="658.1">420.8</text>
<text stroke="url(#skyR)" class="m" x="1399.7" y="691.3">386.0</text>
<text stroke="url(#skyR)" class="m" x="1664" y="581">Precipitation</text>
<text stroke="url(#skyR)" class="m r" x="1664" y="625.4">125.4</text>
<text stroke="url(#skyR)" class="m" x="1664" y="658.6">114.5</text>
<text stroke="url(#skyR)" class="m" x="1664" y="691.6">114.0</text>
<text stroke="url(#skyR)" class="m" x="1871.2" y="535">Evapotranspiration</text>
<text stroke="url(#skyR)" class="m r" x="1871.2" y="578.3">97.9</text>
<text stroke="url(#skyR)" class="m" x="1871.2" y="611.8">86.1</text>
<text stroke="url(#skyR)" class="m" x="1871.2" y="645.4">74.0</text>
<text stroke="#9fc934" class="m r" x="1740" y="921.6">27.5</text>
<text stroke="#a8c236" class="m" x="1740" y="956.9">28.4</text>
<text stroke="#a8c236" class="m" x="1740" y="990.8">40.0</text>
<text stroke="#a8c236" x="1800" y="956.9">Net flux</text>
<text class="m" x="1127" y="1044.3">Ocean</text>
<text class="m" x="1967" y="1045">Land</text>
</svg>
</body></html>
